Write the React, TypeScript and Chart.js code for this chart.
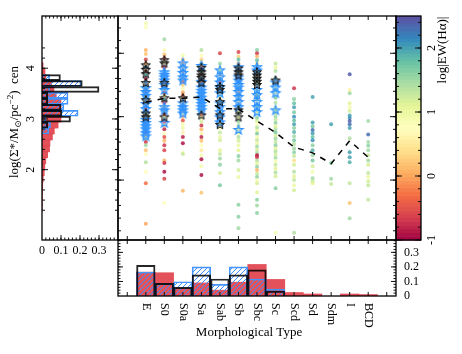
import React, { useEffect, useRef } from 'react';
import { Chart, registerables } from 'chart.js';
Chart.register(...registerables);

const W = 462;
const H = 354;
const FONT = '"Liberation Serif", "DejaVu Serif", serif';

// ---------- categories & ranges ----------
const TYPES = ['E', 'S0', 'S0a', 'Sa', 'Sab', 'Sb', 'Sbc', 'Sc', 'Scd', 'Sd', 'Sdm', 'I', 'BCD'];
const SIGMA_MIN = 1.055;
const SIGMA_MAX = 4.588;
const EW_MIN = -1;
const EW_MAX = 2.5;
const X_MIN = -1.5;
const X_MAX = 13.5;

// ---------- tick labels ----------
const SIGMA_TICKS = [2, 3, 4];
const EW_TICKS = [-1, 0, 1, 2];
const FRAC_TICKS = [0, 0.1, 0.2, 0.3];

// ---------- scatter dots per type: [log Sigma*, log EW(Ha)] ----------
const DOTS_E = [[4.47,0.9],[4.41,0.8],[4.05,0.1],[3.99,0.2],[3.9,-0.6],[3.84,0.0],[3.78,2.1],[3.72,-0.3],[3.66,1.9],[3.6,-0.8],[3.55,2.2],[3.5,0.1],[3.45,2.0],[3.4,-0.5],[3.35,2.3],[3.3,1.8],[3.25,0.3],[3.2,2.1],[3.15,-0.7],[3.1,2.4],[3.05,1.7],[3.0,0.0],[2.95,2.2],[2.9,-0.6],[2.85,1.9],[2.8,2.3],[2.75,-0.9],[2.7,0.1],[2.65,1.6],[2.6,-0.7],[2.55,1.5],[2.47,0.2],[2.41,0.7],[2.28,1.4],[2.13,0.8],[1.95,-0.3],[1.31,0.0]];
const DOTS_S0 = [[4.22,1.5],[4.05,0.7],[3.98,0.2],[3.92,-0.4],[3.85,0.5],[3.78,-0.7],[3.72,2.0],[3.66,-0.2],[3.6,1.8],[3.55,-0.8],[3.5,0.3],[3.44,2.1],[3.38,-0.5],[3.33,0.6],[3.27,1.9],[3.22,-0.7],[3.16,0.2],[3.1,2.2],[3.04,-0.3],[2.98,0.9],[2.92,-0.6],[2.86,0.3],[2.8,-0.8],[2.74,0.8],[2.68,-0.5],[2.62,0.1],[2.55,-0.7],[2.47,-0.6],[2.31,0.1],[2.27,-0.7],[2.13,-0.9],[2.02,-0.6],[1.64,0.8]];
const DOTS_S0A = [[3.97,0.9],[3.9,0.2],[3.84,0.0],[3.78,0.4],[3.72,-0.2],[3.66,0.6],[3.6,0.1],[3.55,-0.4],[3.5,0.3],[3.44,0.8],[3.38,0.0],[3.33,-0.3],[3.27,0.5],[3.22,0.2],[3.16,2.0],[3.1,-0.2],[3.05,0.7],[3.0,0.1],[2.94,-0.5],[2.88,0.9],[2.82,1.0],[2.75,0.6],[2.68,-0.8],[2.58,-0.9],[2.43,0.9],[2.41,1.3],[1.83,0.1]];
const DOTS_SA = [[4.05,1.4],[3.97,0.8],[3.9,0.3],[3.84,1.5],[3.78,-0.4],[3.72,2.0],[3.66,0.2],[3.6,1.7],[3.55,-0.2],[3.5,2.1],[3.44,0.5],[3.38,1.8],[3.33,0.0],[3.27,2.2],[3.22,1.6],[3.16,0.4],[3.1,1.9],[3.04,-0.3],[2.98,0.9],[2.92,1.2],[2.86,-0.7],[2.8,0.1],[2.74,0.6],[2.68,-0.8],[2.62,0.2],[2.55,0.8],[2.47,0.5],[2.39,0.9],[2.33,-0.9],[2.22,0.9],[2.08,-0.9],[1.8,0.2]];
const DOTS_SAB = [[4.0,-0.6],[3.84,1.5],[3.78,0.9],[3.72,1.6],[3.66,0.3],[3.6,1.9],[3.55,-0.5],[3.5,1.4],[3.44,0.8],[3.38,2.0],[3.33,1.2],[3.27,0.4],[3.22,1.7],[3.16,-0.2],[3.1,1.0],[3.05,1.5],[3.0,0.6],[2.94,1.8],[2.88,1.1],[2.82,0.8],[2.75,1.3],[2.68,1.0],[2.63,1.2],[2.47,1.1],[2.41,1.3],[2.34,1.5],[2.24,1.6],[2.11,1.2],[1.92,1.7]];
const DOTS_SB = [[4.02,-0.6],[3.95,0.3],[3.9,1.8],[3.84,0.1],[3.78,2.0],[3.72,0.5],[3.66,1.6],[3.6,-0.3],[3.55,2.2],[3.5,0.8],[3.44,1.7],[3.38,0.0],[3.33,2.1],[3.27,1.2],[3.22,0.4],[3.16,1.9],[3.1,0.9],[3.05,1.4],[2.98,1.1],[2.92,1.5],[2.86,1.2],[2.8,1.3],[2.74,0.9],[2.68,1.4],[2.62,1.2],[2.55,1.0],[2.47,1.1],[2.38,1.6],[2.31,1.5],[2.16,1.2],[2.05,1.0],[1.61,1.6],[1.42,1.6],[1.24,1.5]];
const DOTS_SBC = [[4.05,1.6],[4.0,-0.7],[3.95,0.1],[3.89,1.8],[3.84,0.4],[3.78,2.0],[3.72,1.5],[3.66,0.3],[3.6,2.2],[3.55,1.7],[3.5,0.9],[3.44,1.9],[3.38,1.2],[3.33,2.0],[3.27,1.6],[3.22,0.8],[3.16,1.8],[3.1,1.3],[3.05,1.0],[2.98,1.6],[2.93,1.2],[2.88,0.8],[2.83,1.4],[2.78,1.1],[2.73,1.7],[2.68,0.9],[2.63,1.3],[2.58,1.0],[2.53,1.5],[2.48,1.2],[2.43,1.4],[2.39,-0.9],[2.36,-0.7],[2.31,1.4],[2.26,1.1],[2.21,1.6],[2.16,0.1],[2.1,1.3],[2.05,1.6],[2.0,0.9],[1.95,1.2],[1.81,1.1],[1.69,1.6],[1.6,1.5],[1.48,1.6]];
const DOTS_SC = [[3.84,1.3],[3.78,1.0],[3.72,1.4],[3.6,1.6],[3.5,1.2],[3.44,1.5],[3.38,1.3],[3.3,1.7],[3.22,1.4],[3.15,1.0],[3.1,1.6],[3.05,1.2],[3.0,1.5],[2.95,1.3],[2.9,1.6],[2.85,1.1],[2.8,1.4],[2.75,1.7],[2.7,1.2],[2.65,1.5],[2.6,1.3],[2.55,1.6],[2.5,1.1],[2.45,1.4],[2.4,1.2],[2.35,1.5],[2.3,0.9],[2.24,1.3],[2.18,1.1],[2.12,1.4],[2.06,1.2],[1.87,1.6],[1.17,0.9]];
const DOTS_SCD = [[3.45,-0.7],[3.28,1.6],[3.21,1.8],[3.15,2.0],[3.07,1.7],[3.0,2.1],[2.94,1.8],[2.88,2.0],[2.82,1.6],[2.76,1.9],[2.69,1.5],[2.63,1.7],[2.57,1.4],[2.5,1.5],[2.44,1.6],[2.38,1.3],[2.31,0.4],[2.24,1.2],[2.13,1.4],[2.06,1.1],[2.0,1.3],[1.92,1.0],[1.84,1.2],[1.17,1.4]];
const DOTS_SD = [[3.31,2.0],[2.91,2.0],[2.85,1.7],[2.79,2.3],[2.74,2.0],[2.68,1.8],[2.63,2.1],[2.55,1.6],[2.47,1.9],[2.39,1.5],[2.31,1.7],[2.22,1.2],[2.13,0.9],[2.03,1.5],[1.98,1.3],[1.95,1.1]];
const DOTS_SDM = [[2.88,2.0],[2.27,1.6],[2.02,1.5],[1.94,1.3]];
const DOTS_I = [[3.67,2.4],[3.42,0.6],[3.37,1.5],[3.21,1.1],[3.15,0.9],[3.09,1.2],[3.02,2.0],[2.98,2.1],[2.93,2.4],[2.88,2.3],[2.82,2.0],[2.66,1.4],[2.44,2.0],[2.36,2.0],[2.28,1.9],[1.95,1.3],[1.64,0.2],[1.4,1.5]];
const DOTS_BCD = [[2.93,1.5],[2.72,2.3],[2.6,1.5],[2.54,1.6],[2.47,1.5],[2.39,1.3],[2.31,1.5],[2.24,1.2],[2.11,1.3],[2.05,1.0],[1.98,1.2],[1.92,1.3],[1.69,1.3]];
const DOTS = [DOTS_E, DOTS_S0, DOTS_S0A, DOTS_SA, DOTS_SAB, DOTS_SB, DOTS_SBC, DOTS_SC, DOTS_SCD, DOTS_SD, DOTS_SDM, DOTS_I, DOTS_BCD];

// ---------- star markers (log Sigma*) per type ----------
const BLUE_STARS = [
  [3.45,3.39,3.33,3.2,3.12,2.95,2.9,2.85,2.8,2.74,2.69],
  [3.7,3.66,3.62,3.57,3.5,3.42,3.15,3.1,2.9],
  [3.84,3.76,3.69,3.62,3.57,3.21,3.15,3.1,3.05],
  [3.8,3.55,3.46,3.41,3.36,3.3,3.25,3.2,3.15,3.1],
  [3.73,3.62,3.54,3.46,3.37,3.21,3.15,3.07,2.99,2.91],
  [3.78,3.62,3.57,3.5,3.46,3.39,3.31,3.23,3.15,2.79],
  [3.78,3.73,3.42,3.34,3.23,3.15,3.07],
  [3.54,3.46,3.37,3.1],
];
const BLACK_STARS = [
  [3.81,3.74,3.67,3.53,3.26,3.05,2.99],
  [3.89,3.84,3.53,3.29,2.99],
  [3.29],
  [3.77,3.7,3.65,3.61,3.53,3.02],
  [3.47,3.42,3.23,3.02,2.87],
  [3.76,3.7,3.65,3.1,2.99],
  [3.7,3.65,3.6,3.55,3.5],
  [3.57],
];

// ---------- median line ----------
const MEDIAN = [3.23, 3.29, 3.29, 3.31, 3.13, 3.12, 2.93, 2.75, 2.52, 2.43, 2.26, 2.62, 2.36];

// ---------- bottom histogram (fraction per type) ----------
const TYPE_FRAC_RED = [0.164, 0.16, 0.05, 0.09, 0.04, 0.095, 0.217, 0.114, 0.024, 0.014, 0, 0.014, 0.01];
const TYPE_FRAC_BLUE = [0.165, 0.085, 0.098, 0.2, 0.08, 0.2, 0.117, 0.047, 0, 0, 0, 0, 0];
const TYPE_FRAC_BLACK = [0.21, 0.087, 0.059, 0.145, 0.117, 0.145, 0.18, 0.033, 0, 0, 0, 0, 0];

// ---------- left histogram (fraction per log Sigma* bin) ----------
const SIGMA_BINS = [4.05, 3.933, 3.815, 3.698, 3.581, 3.464, 3.347, 3.229, 3.112, 2.995, 2.878, 2.761, 2.643, 2.526, 2.409, 2.292, 2.174, 2.057, 1.94, 1.823, 1.705, 1.588, 1.471, 1.354, 1.237];
const SIGMA_FRAC_RED = [0.006, 0.016, 0.02, 0.05, 0.063, 0.075, 0.1, 0.1, 0.1, 0.1, 0.085, 0.065, 0.055, 0.042, 0.04, 0.03, 0.02, 0.015, 0.012, 0.007, 0.004, 0.003, 0.002, 0.002, 0.001];
const SIGMA_FRAC_BLUE = [0, 0, 0.04, 0.205, 0.04, 0.137, 0.137, 0.115, 0.19, 0.02, 0.045, 0.035, 0, 0, 0, 0, 0, 0, 0, 0, 0, 0, 0, 0, 0];
const SIGMA_FRAC_BLACK = [0, 0, 0.097, 0.212, 0.3, 0.03, 0.03, 0.1, 0.105, 0.15, 0.03, 0, 0, 0, 0, 0, 0, 0, 0, 0, 0, 0, 0, 0, 0];

// ---------- helpers ----------
const SPECTRAL = ['#9e0142', '#d53e4f', '#f46d43', '#fdae61', '#fee08b', '#ffffbf', '#e6f598', '#abdda4', '#66c2a5', '#3288bd', '#5e4fa2'];
const rgb = (h: string) => [parseInt(h.slice(1, 3), 16), parseInt(h.slice(3, 5), 16), parseInt(h.slice(5, 7), 16)];
function cmap(v: number, alpha = 1) {
  const t = Math.min(1, Math.max(0, (v - EW_MIN) / (EW_MAX - EW_MIN))) * (SPECTRAL.length - 1);
  const i = Math.min(Math.floor(t), SPECTRAL.length - 2);
  const f = t - i;
  const a = rgb(SPECTRAL[i]);
  const b = rgb(SPECTRAL[i + 1]);
  const c = a.map((x, k) => Math.round(x + (b[k] - x) * f));
  return `rgba(${c[0]},${c[1]},${c[2]},${alpha})`;
}
function steps(a: number, b: number, s: number) {
  const out: number[] = [];
  for (let v = a; v <= b + 1e-9; v += s) out.push(+v.toFixed(4));
  return out;
}
function starImage(R: number, fill: string, stroke: string, lw: number) {
  const s = Math.ceil(2 * R + lw + 3);
  const c = document.createElement('canvas');
  c.width = s; c.height = s;
  const g = c.getContext('2d')!;
  const cx = s / 2, cy = s / 2, r = R * 0.42;
  g.beginPath();
  for (let k = 0; k < 10; k++) {
    const ang = -Math.PI / 2 + (k * Math.PI) / 5;
    const rr = k % 2 === 0 ? R : r;
    const x = cx + rr * Math.cos(ang), y = cy + rr * Math.sin(ang);
    if (k === 0) g.moveTo(x, y); else g.lineTo(x, y);
  }
  g.closePath();
  g.fillStyle = fill; g.fill();
  g.lineWidth = lw; g.strokeStyle = stroke; g.stroke();
  return c;
}
function hatch(ctx: CanvasRenderingContext2D, color: string) {
  const c = document.createElement('canvas');
  const n = 5;
  c.width = n; c.height = n;
  const g = c.getContext('2d')!;
  g.strokeStyle = color; g.lineWidth = 1;
  g.beginPath();
  g.moveTo(0, n); g.lineTo(n, 0);
  g.moveTo(-1, 1); g.lineTo(1, -1);
  g.moveTo(n - 1, n + 1); g.lineTo(n + 1, n - 1);
  g.stroke();
  return ctx.createPattern(c, 'repeat')!;
}
function txt(ctx: CanvasRenderingContext2D, s: string, x: number, y: number, size = 12, rot = 0, align: CanvasTextAlign = 'center', base: CanvasTextBaseline = 'middle') {
  ctx.save();
  ctx.translate(x, y);
  if (rot) ctx.rotate(rot);
  ctx.font = `${size}px ${FONT}`;
  ctx.fillStyle = '#000';
  ctx.textAlign = align;
  ctx.textBaseline = base;
  ctx.fillText(s, 0, 0);
  ctx.restore();
}
function richText(ctx: CanvasRenderingContext2D, parts: [string, number, number][], x: number, y: number, rot: number) {
  ctx.save();
  ctx.translate(x, y);
  ctx.rotate(rot);
  let total = 0;
  for (const [s, size] of parts) { ctx.font = `${size}px ${FONT}`; total += ctx.measureText(s).width; }
  let cx = -total / 2;
  ctx.fillStyle = '#000';
  ctx.textAlign = 'left';
  ctx.textBaseline = 'alphabetic';
  for (const [s, size, dy] of parts) {
    ctx.font = `${size}px ${FONT}`;
    ctx.fillText(s, cx, dy);
    cx += ctx.measureText(s).width;
  }
  ctx.restore();
}

type Side = 'left' | 'right' | 'top' | 'bottom';
type TickSpec = { axis: string; values: number[]; len: number; sides: Side[] };
function decor(id: string, ticks: TickSpec[], extra?: (chart: any, ctx: CanvasRenderingContext2D) => void, before?: (chart: any, ctx: CanvasRenderingContext2D) => void) {
  return {
    id,
    beforeDatasetsDraw(chart: any) {
      if (before) { const ctx = chart.ctx; ctx.save(); before(chart, ctx); ctx.restore(); }
    },
    afterDatasetsDraw(chart: any) {
      const ctx: CanvasRenderingContext2D = chart.ctx;
      const a = chart.chartArea;
      ctx.save();
      ctx.strokeStyle = '#111';
      ctx.lineWidth = 1;
      for (const t of ticks) {
        const s = chart.scales[t.axis];
        ctx.beginPath();
        for (const v of t.values) {
          const p = s.getPixelForValue(v);
          for (const side of t.sides) {
            if (side === 'left') { ctx.moveTo(a.left, p); ctx.lineTo(a.left + t.len, p); }
            if (side === 'right') { ctx.moveTo(a.right, p); ctx.lineTo(a.right - t.len, p); }
            if (side === 'top') { ctx.moveTo(p, a.top); ctx.lineTo(p, a.top + t.len); }
            if (side === 'bottom') { ctx.moveTo(p, a.bottom); ctx.lineTo(p, a.bottom - t.len); }
          }
        }
        ctx.stroke();
      }
      ctx.lineWidth = 1.3;
      ctx.strokeStyle = '#000';
      ctx.strokeRect(a.left, a.top, a.right - a.left, a.bottom - a.top);
      if (extra) extra(chart, ctx);
      ctx.restore();
    },
  };
}

const BASE_OPTS = {
  animation: false as const,
  responsive: false,
  events: [] as any[],
  plugins: { legend: { display: false }, tooltip: { enabled: false } },
};
const fracLabel = (v: any) => (FRAC_TICKS.some((t) => Math.abs(t - v) < 1e-6) ? String(+(+v).toFixed(1)) : '');

export default function App() {
  const leftRef = useRef<HTMLCanvasElement>(null);
  const mainRef = useRef<HTMLCanvasElement>(null);
  const bottomRef = useRef<HTMLCanvasElement>(null);
  const cbarRef = useRef<HTMLCanvasElement>(null);

  useEffect(() => {
    const charts: Chart[] = [];
    const sigmaMinor = steps(1.2, 4.4, 0.2);
    const sigmaTicks: TickSpec[] = [
      { axis: 'y', values: sigmaMinor, len: 3, sides: ['left', 'right'] },
      { axis: 'y', values: SIGMA_TICKS, len: 6, sides: ['left', 'right'] },
    ];

    // ---------- main scatter ----------
    const dotData: any[] = [];
    const dotColors: string[] = [];
    DOTS.forEach((list, i) => list.forEach(([s, ew]) => { dotData.push({ x: i, y: s }); dotColors.push(cmap(ew, 0.85)); }));
    const blueStars: any[] = [];
    BLUE_STARS.forEach((list, i) => list.forEach((s) => blueStars.push({ x: i, y: s })));
    const blackStars: any[] = [];
    BLACK_STARS.forEach((list, i) => list.forEach((s) => blackStars.push({ x: i, y: s })));
    const blueImg = starImage(4.8, 'rgba(110,180,255,0.25)', '#2a90ff', 1.2);
    const blackImg = starImage(4.8, 'rgba(70,70,70,0.3)', '#111', 1.0);

    charts.push(new Chart(mainRef.current!, {
      type: 'scatter',
      data: {
        datasets: [
          { label: 'median', data: MEDIAN.map((v, i) => ({ x: i, y: v })), showLine: true, borderColor: '#000', borderWidth: 1.5, borderDash: [6, 6], pointRadius: 0 } as any,
          { label: 'black', data: blackStars, pointStyle: blackImg, pointRadius: 5 } as any,
          { label: 'blue', data: blueStars, pointStyle: blueImg, pointRadius: 5 } as any,
          { label: 'dots', data: dotData, backgroundColor: dotColors, pointRadius: 2, borderWidth: 0 } as any,
        ],
      },
      options: {
        ...BASE_OPTS,
        layout: { padding: { left: 118, top: 16, right: W - 396, bottom: H - 240 } },
        scales: {
          x: { type: 'linear', min: X_MIN, max: X_MAX, display: false },
          y: { type: 'linear', min: SIGMA_MIN, max: SIGMA_MAX, display: false },
        },
      } as any,
      plugins: [decor('mainDecor', [
        ...sigmaTicks,
        { axis: 'x', values: steps(-1, 13, 1), len: 4, sides: ['top', 'bottom'] },
      ])],
    }));

    // ---------- left histogram ----------
    const lctx = leftRef.current!.getContext('2d')!;
    const lHatch = hatch(lctx, '#3d8fff');
    const nz = (arr: number[]) => SIGMA_BINS.map((c, i) => ({ x: arr[i] > 0 ? arr[i] : null, y: c }));
    const barCommon = { grouped: false, barPercentage: 1, categoryPercentage: 1 };
    charts.push(new Chart(leftRef.current!, {
      type: 'bar',
      data: {
        datasets: [
          { data: nz(SIGMA_FRAC_BLACK), backgroundColor: 'rgba(0,0,0,0)', borderColor: 'rgba(0,0,0,0.85)', borderWidth: 1.3, ...barCommon } as any,
          { data: nz(SIGMA_FRAC_BLUE), backgroundColor: lHatch, borderColor: '#4495ff', borderWidth: 1, ...barCommon } as any,
          { data: nz(SIGMA_FRAC_RED), backgroundColor: 'rgba(222,52,62,0.85)', borderWidth: 0, ...barCommon } as any,
        ],
      },
      options: {
        ...BASE_OPTS,
        indexAxis: 'y',
        layout: { padding: { left: 42, top: 16, right: W - 118, bottom: H - 240 - 20 } },
        scales: {
          x: {
            type: 'linear', position: 'bottom', min: 0, max: 0.4,
            grid: { display: false, drawTicks: false }, border: { display: false },
            ticks: { stepSize: 0.1, autoSkip: false, padding: 4, color: '#000', font: { family: FONT, size: 12 }, maxRotation: 0, callback: fracLabel },
            afterFit: (s: any) => { s.height = 20; },
          },
          y: { type: 'linear', min: SIGMA_MIN, max: SIGMA_MAX, display: false, ticks: { stepSize: 1 } },
        },
      } as any,
      plugins: [decor('leftDecor', [
        ...sigmaTicks,
        { axis: 'x', values: steps(0.02, 0.38, 0.02), len: 2.5, sides: ['top', 'bottom'] },
        { axis: 'x', values: [0.1, 0.2, 0.3], len: 5, sides: ['top', 'bottom'] },
      ], (chart, ctx) => {
        const ys = chart.scales.y;
        for (const t of SIGMA_TICKS) txt(ctx, String(t), 31, ys.getPixelForValue(t), 12, -Math.PI / 2);
        richText(ctx, [['log(Σ*/M', 13, 0], ['⊙', 9, 3], ['/pc', 13, 0], ['−2', 9, -5], [')  cen', 13, 0]], 18, 122, -Math.PI / 2);
      })],
    }));

    // ---------- bottom histogram ----------
    const bctx = bottomRef.current!.getContext('2d')!;
    const bHatch = hatch(bctx, '#3d8fff');
    const pad = (arr: number[]) => [null, ...arr.map((v) => (v > 0 ? v : null)), null];
    charts.push(new Chart(bottomRef.current!, {
      type: 'bar',
      data: {
        labels: ['', ...TYPES, ''],
        datasets: [
          { data: pad(TYPE_FRAC_BLACK), backgroundColor: 'rgba(0,0,0,0)', borderColor: 'rgba(0,0,0,0.85)', borderWidth: 1.3, ...barCommon } as any,
          { data: pad(TYPE_FRAC_BLUE), backgroundColor: bHatch, borderColor: '#4495ff', borderWidth: 1, ...barCommon } as any,
          { data: pad(TYPE_FRAC_RED), backgroundColor: 'rgba(222,52,62,0.85)', borderWidth: 0, ...barCommon } as any,
        ],
      },
      options: {
        ...BASE_OPTS,
        layout: { padding: { left: 118, top: 240, right: W - 396 - 50, bottom: H - 296 } },
        scales: {
          x: { type: 'category', display: false, offset: true },
          y: {
            type: 'linear', position: 'right', min: 0, max: 0.385,
            grid: { display: false, drawTicks: false }, border: { display: false },
            ticks: { stepSize: 0.1, autoSkip: false, padding: 8, color: '#000', font: { family: FONT, size: 12 }, callback: fracLabel },
            afterFit: (s: any) => { s.width = 50; },
          },
        },
      } as any,
      plugins: [decor('bottomDecor', [
        { axis: 'x', values: steps(0, 14, 1), len: 4, sides: ['top', 'bottom'] },
        { axis: 'y', values: steps(0.02, 0.38, 0.02), len: 2.5, sides: ['left', 'right'] },
        { axis: 'y', values: [0.1, 0.2, 0.3], len: 5, sides: ['left', 'right'] },
      ], (chart, ctx) => {
        const xs = chart.scales.x;
        TYPES.forEach((t, i) => txt(ctx, t, xs.getPixelForValue(i + 1), 303, 12, Math.PI / 2, 'left', 'middle'));
        txt(ctx, 'Morphological Type', 249, 333, 13);
      })],
    }));

    // ---------- colorbar ----------
    charts.push(new Chart(cbarRef.current!, {
      type: 'scatter',
      data: { datasets: [{ data: [] }] },
      options: {
        ...BASE_OPTS,
        layout: { padding: { left: 396, top: 16, right: W - 421, bottom: H - 240 } },
        scales: {
          x: { type: 'linear', min: 0, max: 1, display: false },
          y: { type: 'linear', min: EW_MIN, max: EW_MAX, display: false },
        },
      } as any,
      plugins: [decor('cbarDecor', [
        { axis: 'y', values: steps(-0.8, 2.4, 0.2), len: 3, sides: ['left', 'right'] },
        { axis: 'y', values: EW_TICKS, len: 6, sides: ['left', 'right'] },
      ], (chart, ctx) => {
        const ys = chart.scales.y;
        for (const t of EW_TICKS) txt(ctx, String(t), 432, ys.getPixelForValue(t), 12, -Math.PI / 2);
        txt(ctx, 'log|EW(Hα)|', 443, 50, 13, -Math.PI / 2);
      }, (chart, ctx) => {
        const a = chart.chartArea;
        const ys = chart.scales.y;
        const n = 60;
        const d = (EW_MAX - EW_MIN) / n;
        for (let k = 0; k < n; k++) {
          const v0 = EW_MIN + k * d;
          const y0 = ys.getPixelForValue(v0);
          const y1 = ys.getPixelForValue(v0 + d);
          ctx.fillStyle = cmap(v0 + d / 2);
          ctx.fillRect(a.left, y1, a.right - a.left, y0 - y1 + 0.6);
        }
      })],
    }));

    return () => charts.forEach((c) => c.destroy());
  }, []);

  const cs: React.CSSProperties = { position: 'absolute', left: 0, top: 0, width: W, height: H };
  return (
    <div style={{ position: 'absolute', left: 0, top: 0, width: W, height: H, background: '#fff', overflow: 'hidden' }}>
      <canvas ref={cbarRef} width={W} height={H} style={cs} />
      <canvas ref={leftRef} width={W} height={H} style={cs} />
      <canvas ref={bottomRef} width={W} height={H} style={cs} />
      <canvas ref={mainRef} width={W} height={H} style={cs} />
    </div>
  );
}
